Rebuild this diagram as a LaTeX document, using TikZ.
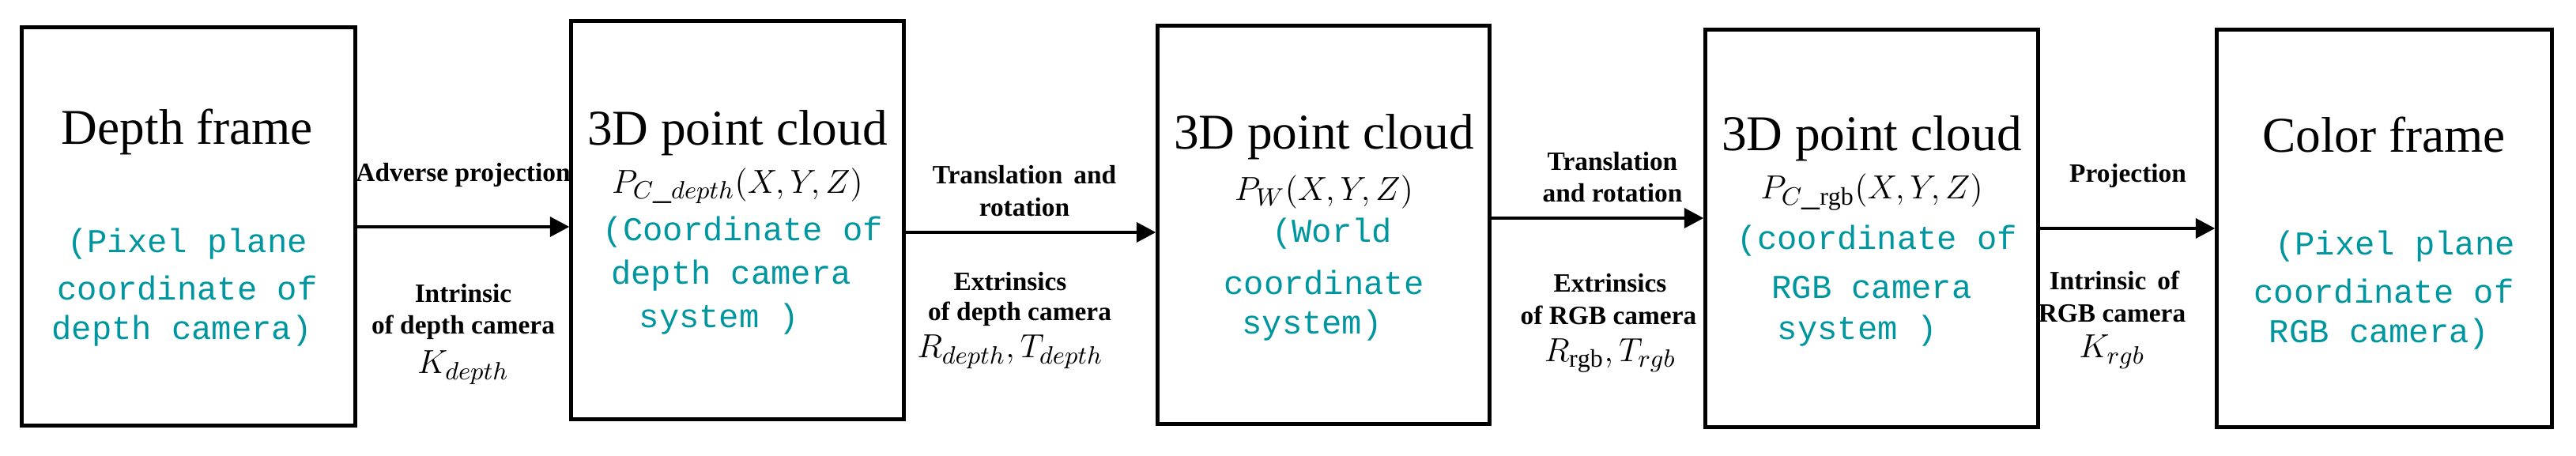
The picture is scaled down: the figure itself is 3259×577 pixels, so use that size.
\documentclass[tikz,border=0pt]{standalone}
\usepackage{fontspec}
\setmainfont{Liberation Serif}
\newfontfamily\cyanfont{Liberation Mono}
\usetikzlibrary{arrows.meta}
\definecolor{cyant}{RGB}{0,150,160}
\begin{document}
\begin{tikzpicture}[x=0.01cm,y=-0.01cm,
  box/.style={draw,line width=1.4pt,inner sep=0pt},
  ttl/.style={font=\fontsize{18}{20}\selectfont},
  cy/.style={text=cyant,font=\cyanfont\fontsize{12}{14}\selectfont},
  lab/.style={font=\bfseries\fontsize{9.5}{11}\selectfont},
  mth/.style={font=\fontsize{13}{15}\selectfont},
  arr/.style={line width=1.4pt,-{Triangle[length=7pt,width=7pt]}}]
\useasboundingbox (0,0) rectangle (3259,577);
% boxes
\node[box,minimum width=4.21cm,minimum height=5.03cm] (b1) at (238.5,286.5) {};
\node[box,minimum width=4.20cm,minimum height=5.03cm] (b2) at (933,278.5) {};
\node[box,minimum width=4.19cm,minimum height=5.03cm] (b3) at (1674.5,284.5) {};
\node[box,minimum width=4.20cm,minimum height=5.02cm] (b4) at (2368,289) {};
\node[box,minimum width=4.23cm,minimum height=5.02cm] (b5) at (3016.5,289) {};
% box texts
\node[ttl] (t1) at (237,167) {Depth frame};
\node[cy] (c1a) at (237,309) {(Pixel plane};
\node[cy] (c1b) at (237,364) {coordinate of};
\node[cy] (c1c) at (230,419) {depth camera)};

\node[ttl] (t2) at (933,168) {3D point cloud};
\node[mth] (p2) at (933,235) {$P_{C\_depth}(X,Y,Z)$};
\node[cy] (c2a) at (940,294) {(Coordinate of};
\node[cy] (c2b) at (925,349) {depth camera};
\node[cy] (c2c) at (910,404) {system )};

\node[ttl] (t3) at (1675,173) {3D point cloud};
\node[mth] (p3) at (1675,243) {$P_W(X,Y,Z)$};
\node[cy] (c3a) at (1685,296) {(World};
\node[cy] (c3b) at (1675,357) {coordinate};
\node[cy] (c3c) at (1660,412) {system)};

\node[ttl] (t4) at (2368,175) {3D point cloud};
\node[mth] (p4) at (2368,243) {$P_{C\_\mathrm{rgb}}(X,Y,Z)$};
\node[cy] (c4a) at (2375,305) {(coordinate of};
\node[cy] (c4b) at (2368,364) {RGB camera};
\node[cy] (c4c) at (2350,419) {system )};

\node[ttl] (t5) at (3016,171) {Color frame};
\node[cy] (c5a) at (3030,312) {(Pixel plane};
\node[cy] (c5b) at (3016,368) {coordinate of};
\node[cy] (c5c) at (3010,423) {RGB camera)};
% arrows
\coordinate (y1) at (0,287);
\coordinate (y2) at (0,294);
\coordinate (y3) at (0,276);
\coordinate (y4) at (0,289);
\draw[arr] (b1.east |- y1) -- (b2.west |- y1);
\draw[arr] (b2.east |- y2) -- (b3.west |- y2);
\draw[arr] (b3.east |- y3) -- (b4.west |- y3);
\draw[arr] (b4.east |- y4) -- (b5.west |- y4);
% arrow labels
\node[lab] (l1a) at (586,221) {Adverse projection};
\node[lab] (l1b) at (586,371) {Intrinsic};
\node[lab] (l1c) at (586,414) {of depth camera};
\node[mth] (l1d) at (586,465) {$K_{depth}$};

\node[lab] (l2a) at (1296,221) {Translation\, and};
\node[lab] (l2b) at (1296,262) {rotation};
\node[lab] (l2c) at (1278,356) {Extrinsics};
\node[lab] (l2d) at (1290,397) {of depth camera};
\node[mth] (l2e) at (1278,445) {$R_{depth},T_{depth}$};

\node[lab] (l3a) at (2040,204) {Translation};
\node[lab] (l3b) at (2040,244) {and rotation};
\node[lab] (l3c) at (2037,358) {Extrinsics};
\node[lab] (l3d) at (2035,399) {of RGB camera};
\node[mth] (l3e) at (2037,450) {$R_{\mathrm{rgb}},T_{rgb}$};

\node[lab] (l4a) at (2692,222) {Projection};
\node[lab] (l4b) at (2675,355) {Intrinsic\, of};
\node[lab] (l4c) at (2672,397) {RGB camera};
\node[mth] (l4d) at (2672,445) {$K_{rgb}$};
\end{tikzpicture}
\end{document}
